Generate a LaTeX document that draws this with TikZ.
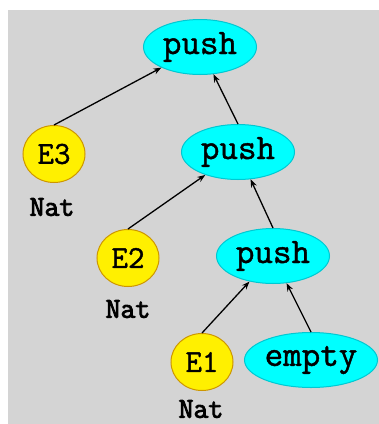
\documentclass[tikz,border=0pt]{standalone}
\usepackage{fontspec}
\newfontfamily\nodett[FakeBold=1.2]{Latin Modern Mono}
\newfontfamily\typett[FakeBold=3]{Latin Modern Mono}
\usetikzlibrary{shapes.geometric,arrows.meta}
\definecolor{bggray}{RGB}{212,212,212}
\definecolor{cyanfill}{RGB}{0,255,255}
\definecolor{cyanline}{RGB}{0,200,210}
\definecolor{yelfill}{RGB}{255,240,0}
\definecolor{yelline}{RGB}{205,150,0}
\tikzset{
  op/.style={ellipse,fill=cyanfill,draw=cyanline,line width=1pt,inner sep=0pt,
    minimum width=113pt,minimum height=55pt,font=\nodett\fontsize{36}{36}\selectfont},
  var/.style={ellipse,fill=yelfill,draw=yelline,line width=1pt,inner sep=0pt,
    minimum width=62pt,minimum height=57pt,font=\nodett\fontsize{32}{32}\selectfont},
  typ/.style={inner sep=0pt,font=\typett\fontsize{29}{29}\selectfont},
  edge/.style={draw=black,line width=1.3pt,-{Stealth[length=8pt,width=6pt]}}
}
\begin{document}
\begin{tikzpicture}[x=1pt,y=-1pt]
\useasboundingbox (0,0) rectangle (379,424);
\fill[white] (0,0) rectangle (379,424);
\fill[bggray] (8,10) rectangle (379,424);
\node[op] (p1) at (200,47) {push};
\node[op] (p2) at (238,152) {push};
\node[op] (p3) at (273,256) {push};
\node[op,minimum width=133pt] (em) at (311,360) {empty};
\node[var] (e3) at (54,154) {E3};
\node[var] (e2) at (128,258) {E2};
\node[var] (e1) at (202,362) {E1};
\node[typ] (n3) at (52,207) {Nat};
\node[typ] (n2) at (128,309) {Nat};
\node[typ] (n1) at (201,409) {Nat};
\draw[edge] (e3.north) -- (p1);
\draw[edge] (p2.north) -- (p1);
\draw[edge] (e2.north) -- (p2);
\draw[edge] (p3.north) -- (p2);
\draw[edge] (e1.north) -- (p3);
\draw[edge] (em.north) -- (p3);
\end{tikzpicture}
\end{document}
